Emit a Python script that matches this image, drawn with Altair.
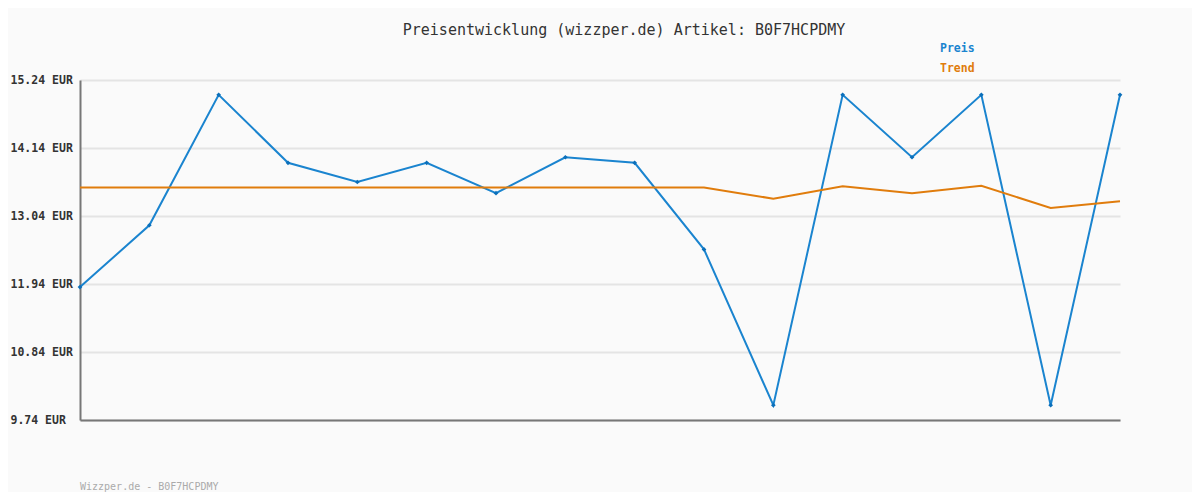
import altair as alt
import pandas as pd

idx = list(range(16))
preis = [11.89, 12.89, 15.00, 13.90, 13.59, 13.90, 13.41, 13.99, 13.90, 12.50,
         9.98, 15.00, 13.99, 15.00, 9.98, 15.00]
trend = [13.50, 13.50, 13.50, 13.50, 13.50, 13.50, 13.50, 13.50, 13.50, 13.50,
         13.32, 13.52, 13.41, 13.53, 13.17, 13.28]
y_ticks = [9.74, 10.84, 11.94, 13.04, 14.14, 15.24]
series_names = ["Preis", "Trend"]
series_colors = ["#1a84cf", "#e07c0c"]
title_text = "Preisentwicklung (wizzper.de) Artikel: B0F7HCPDMY"
footer_text = "Wizzper.de - B0F7HCPDMY"

FONT = "DejaVu Sans Mono"

df = pd.DataFrame({"i": idx * 2,
                   "v": preis + trend,
                   "s": ["Preis"] * 16 + ["Trend"] * 16})

xs = alt.X("i:Q", scale=alt.Scale(domain=[0, 15], nice=False),
           axis=alt.Axis(labels=False, ticks=False, grid=False, title=None,
                         domainColor="#777777", domainWidth=2))
ys = alt.Y("v:Q", scale=alt.Scale(domain=[9.74, 15.24], nice=False, zero=False),
           axis=alt.Axis(values=y_ticks, labelExpr="format(datum.value, '.2f') + ' EUR'",
                         ticks=False, grid=True, gridColor="#e4e4e4", gridWidth=2,
                         domainColor="#777777", domainWidth=2, title=None,
                         labelAlign="left", labelPadding=70, labelFont=FONT,
                         labelFontSize=11.5, labelFontWeight="bold", labelColor="#333333"))
color = alt.Color("s:N", scale=alt.Scale(domain=series_names, range=series_colors), legend=None)

lines = alt.Chart(df).mark_line(strokeWidth=2).encode(x=xs, y=ys, color=color,
                                                     detail="s:N")
pts = alt.Chart(df[df.s == "Preis"]).mark_point(shape="diamond", filled=True, size=22,
                                                opacity=1, color="#0b6fba").encode(x="i:Q", y="v:Q")


def label(text, x, y, size, color, weight="normal", align="left"):
    return alt.Chart(pd.DataFrame({"t": [text]})).mark_text(
        font=FONT, fontSize=size, fontWeight=weight, align=align, baseline="middle",
        color=color).encode(text="t:N", x=alt.value(x), y=alt.value(y))


title = label(title_text, 544, -50, 15, "#333333", align="center")
leg1 = label(series_names[0], 860, -31, 11.5, series_colors[0], "bold")
leg2 = label(series_names[1], 860, -11, 11.5, series_colors[1], "bold")
foot = label(footer_text, 0, 407, 10, "#aaaaaa")

chart = alt.layer(lines, pts, title, leg1, leg2, foot).properties(
    width=1040, height=340,
    autosize=alt.AutoSizeParams(type="none"),
    padding={"left": 72, "top": 72, "right": 72, "bottom": 72},
    background="#fafafa",
).configure_view(stroke=None)

chart.save("out.html", embed_options={"renderer": "svg", "actions": False})
